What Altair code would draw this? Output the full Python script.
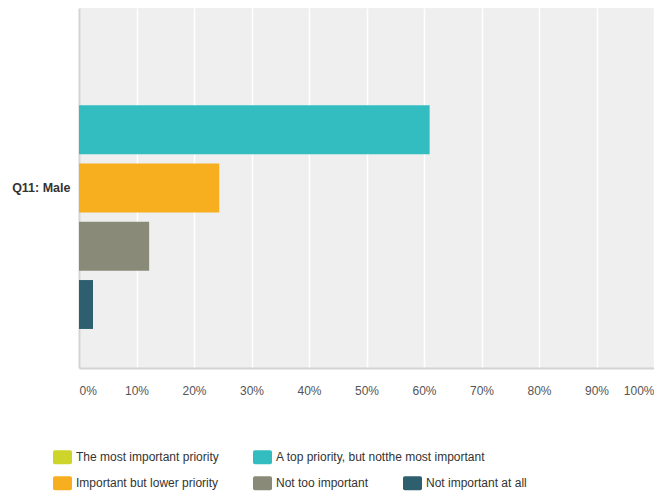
import altair as alt
import pandas as pd

question = ["Q11: Male"] * 5
categories = [
    "The most important priority",
    "A top priority, but notthe most important",
    "Important but lower priority",
    "Not too important",
    "Not important at all",
]
values = [0.0, 0.6098, 0.2439, 0.1220, 0.0244]
colors = ["#cdd52a", "#34bdc0", "#f7af1f", "#8a8a79", "#2e5f6e"]
x_ticks = [0, 0.1, 0.2, 0.3, 0.4, 0.5, 0.6, 0.7, 0.8, 0.9, 1.0]

df = pd.DataFrame({"question": question, "category": categories, "value": values})

FONT = "Liberation Sans"
sym = ("M-0.8,-0.74L0.8,-0.74Q1,-0.74 1,-0.54L1,0.54Q1,0.74 0.8,0.74"
       "L-0.8,0.74Q-1,0.74 -1,0.54L-1,-0.54Q-1,-0.74 -0.8,-0.74Z")

x_enc = alt.X(
    "value:Q",
    scale=alt.Scale(domain=[0, 1], nice=False),
    axis=alt.Axis(
        values=x_ticks, format="%", title=None, ticks=False,
        labelFlush=True, labelPadding=17, labelFont=FONT, labelFontSize=12,
        labelColor="#555555", grid=True, gridColor="#ffffff", gridWidth=1.5,
        domainColor="#d4d4d4", domainWidth=2,
    ),
)
y_enc = alt.Y(
    "question:N",
    scale=alt.Scale(paddingInner=0, paddingOuter=0),
    axis=alt.Axis(
        title=None, ticks=False, labelPadding=9, labelFont=FONT,
        labelFontSize=12.5, labelFontWeight="bold", labelColor="#333333",
        domainColor="#d4d4d4", domainWidth=2, grid=False,
    ),
)
yoff_enc = alt.YOffset(
    "category:N",
    scale=alt.Scale(domain=categories, paddingInner=0.16, paddingOuter=0.67),
)


def legend(y):
    return alt.Legend(
        title=None, orient="none", legendX=-26, legendY=y,
        direction="horizontal", columnPadding=34, symbolType=sym,
        symbolSize=361, symbolStrokeWidth=0, symbolOpacity=1, labelFont=FONT,
        labelFontSize=12, labelColor="#333333", labelLimit=0, labelOffset=4,
        padding=0,
    )


base = alt.Chart(df)

row1 = base.transform_filter(
    alt.FieldOneOfPredicate(field="category", oneOf=categories[:2])
).mark_bar().encode(
    x=x_enc, y=y_enc, yOffset=yoff_enc,
    color=alt.Color("category:N",
                    scale=alt.Scale(domain=categories[:2], range=colors[:2]),
                    legend=legend(439.5)),
)

row2 = base.transform_filter(
    alt.FieldOneOfPredicate(field="category", oneOf=categories[2:])
).mark_bar().encode(
    x=x_enc, y=y_enc, yOffset=yoff_enc,
    color=alt.Color("category:N",
                    scale=alt.Scale(domain=categories[2:], range=colors[2:]),
                    legend=legend(465.5)),
)

chart = alt.layer(row1, row2).resolve_scale(color="independent").properties(
    width=575,
    height=360,
    background="#ffffff",
    autosize=alt.AutoSizeParams(type="none"),
    padding={"left": 71, "top": 0, "right": 0, "bottom": 123},
).configure_view(fill="#efefef", stroke=None)

chart.save("out.html", embed_options={"renderer": "svg", "actions": False})
